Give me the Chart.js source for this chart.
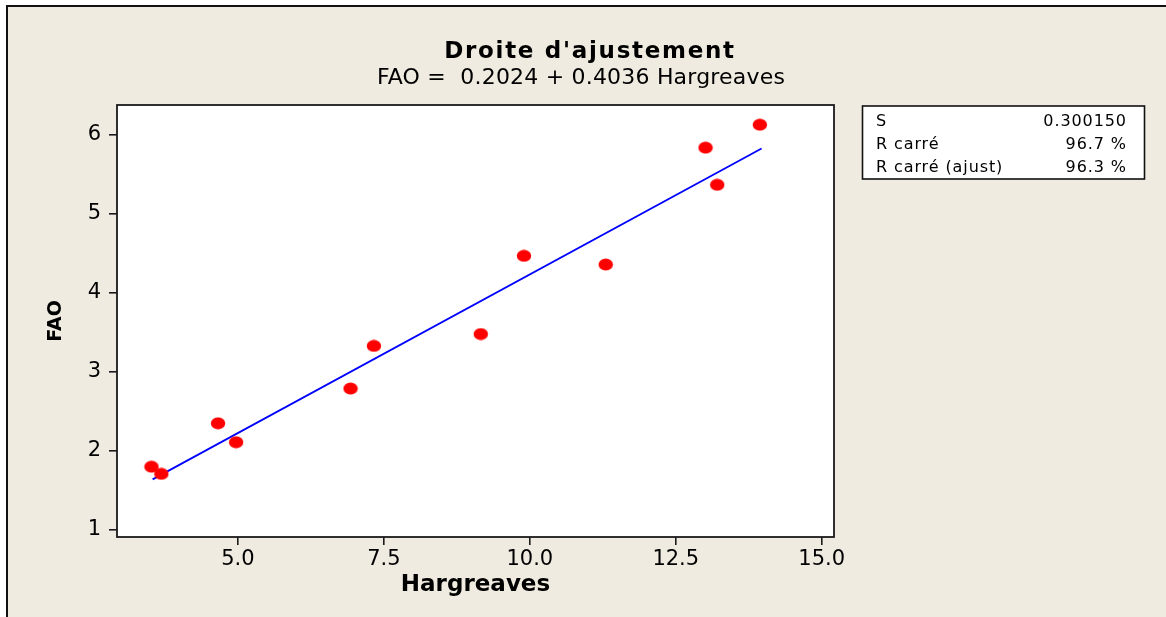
<!DOCTYPE html>
<html>
<head>
<meta charset="utf-8">
<title>Droite d'ajustement</title>
<script src="https://cdn.jsdelivr.net/npm/chart.js@4.4.1/dist/chart.umd.min.js"></script>
<style>
  html, body { margin: 0; padding: 0; background: #fff; }
  canvas { display: block; }
</style>
</head>
<body>
<canvas id="fitChart" width="1166" height="617"></canvas>
<script>
// ── données
const hargreaves = [3.52, 3.69, 4.66, 4.97, 6.93, 7.33, 9.16, 9.90, 11.30, 13.01, 13.21, 13.94];
const fao        = [1.80, 1.71, 2.35, 2.11, 2.79, 3.33, 3.48, 4.47, 4.36, 5.84, 5.37, 6.13];

// droite ajustée (extrémités lues)
const fitX = [3.54, 13.97];
const fitY = [1.64, 5.83];

const xTicks = [5.0, 7.5, 10.0, 12.5, 15.0];
const yTicks = [1, 2, 3, 4, 5, 6];

const chartTitle = "Droite d'ajustement";
const chartSubtitle = 'FAO =  0.2024 + 0.4036 Hargreaves';
const statLabels = ['S', 'R carré', 'R carré (ajust)'];
const statValues = ['0.300150', '96.7 %', '96.3 %'];

const FONT = "'DejaVu Sans', Verdana, sans-serif";
const BEIGE = '#efebe0';

// ─ point rouge légèrement ovale
function makeDot() {
    const c = document.createElement('canvas');
    c.width = 16; c.height = 13;
    const g = c.getContext('2d');
    g.fillStyle = '#ff0000';
    g.beginPath();
    g.ellipse(8, 6.5, 7.2, 5.9, 0, 0, Math.PI * 2);
    g.fill();
    return c;
}

// ─ fond, cadre, titres et boîte de stats
const framePlugin = {
    id: 'frame',
    beforeDraw(chart) {
        const { ctx, width, height, chartArea: a } = chart;
        ctx.save();
        ctx.fillStyle = '#fff';
        ctx.fillRect(0, 0, width, height);
        ctx.fillStyle = BEIGE;
        ctx.fillRect(7, 6, width - 7, height - 6);
        ctx.strokeStyle = '#111';
        ctx.lineWidth = 2;
        ctx.beginPath();
        ctx.moveTo(7, height);
        ctx.lineTo(7, 6);
        ctx.lineTo(width, 6);
        ctx.stroke();
        ctx.fillStyle = '#fff';
        ctx.fillRect(a.left, a.top, a.right - a.left, a.bottom - a.top);
        ctx.restore();
    },
    afterDatasetsDraw(chart) {
        const { ctx, chartArea: a } = chart;
        ctx.save();
        ctx.strokeStyle = '#1a1a1a';
        ctx.lineWidth = 1.8;
        ctx.strokeRect(a.left, a.top, a.right - a.left, a.bottom - a.top);
        ctx.restore();
    },
    afterDraw(chart) {
        const { ctx } = chart;
        ctx.save();
        ctx.fillStyle = '#000';
        ctx.textBaseline = 'alphabetic';

        // titre
        ctx.textAlign = 'center';
        ctx.font = `bold 23px ${FONT}`;
        ctx.letterSpacing = '1.7px';
        ctx.fillText(chartTitle, 590, 58);
        ctx.font = `22px ${FONT}`;
        ctx.letterSpacing = '0.2px';
        ctx.fillText(chartSubtitle, 581, 84);

        // boîte S / R carré
        ctx.fillStyle = '#fff';
        ctx.fillRect(862.5, 106, 282, 73);
        ctx.strokeStyle = '#111';
        ctx.lineWidth = 1.6;
        ctx.strokeRect(862.5, 106, 282, 73);
        ctx.fillStyle = '#000';
        ctx.font = `16px ${FONT}`;
        ctx.letterSpacing = '0.9px';
        statLabels.forEach((t, i) => {
            const y = 125.5 + i * 23;
            ctx.textAlign = 'left';
            ctx.fillText(t, 876, y);
            ctx.textAlign = 'right';
            ctx.fillText(statValues[i], 1126.9, y);
        });
        ctx.restore();
    }
};

const tickGrid = {
    drawOnChartArea: false,
    drawTicks: true,
    tickLength: 8,
    color: '#1a1a1a',
    lineWidth: 1.6
};

new Chart(document.getElementById('fitChart'), {
    type: 'scatter',
    data: {
        datasets: [
            {
                label: 'FAO',
                data: hargreaves.map((x, i) => ({ x, y: fao[i] })),
                pointStyle: makeDot(),
                pointRadius: 7,
                pointHoverRadius: 7
            },
            {
                label: 'Ajustement',
                data: fitX.map((x, i) => ({ x, y: fitY[i] })),
                showLine: true,
                borderColor: '#0000ff',
                borderWidth: 1.8,
                pointRadius: 0,
                pointHoverRadius: 0
            }
        ]
    },
    options: {
        responsive: false,
        animation: false,
        events: [],
        layout: { padding: { left: 8, top: 105, right: 332, bottom: 0 } },
        plugins: {
            legend: { display: false },
            tooltip: { enabled: false }
        },
        scales: {
            x: {
                type: 'linear',
                min: 2.93,
                max: 15.21,
                afterBuildTicks: s => { s.ticks = xTicks.map(v => ({ value: v })); },
                afterFit: s => { s.height = 80; },
                grid: tickGrid,
                border: { display: false },
                ticks: {
                    color: '#000',
                    padding: 2,
                    maxRotation: 0,
                    font: { family: FONT, size: 21 },
                    callback: v => Number(v).toFixed(1)
                },
                title: {
                    display: true,
                    text: 'Hargreaves',
                    color: '#000',
                    font: { family: FONT, size: 23, weight: 'bold' },
                    padding: { top: 0, bottom: 18 }
                }
            },
            y: {
                type: 'linear',
                min: 0.91,
                max: 6.38,
                afterBuildTicks: s => { s.ticks = yTicks.map(v => ({ value: v })); },
                afterFit: s => { s.width = 109; },
                grid: tickGrid,
                border: { display: false },
                ticks: {
                    color: '#000',
                    padding: 8,
                    font: { family: FONT, size: 21 },
                    callback: v => String(v)
                },
                title: {
                    display: true,
                    text: 'FAO',
                    color: '#000',
                    font: { family: FONT, size: 19, weight: 'bold' },
                    padding: { top: 37, bottom: 0 }
                }
            }
        }
    },
    plugins: [framePlugin]
});
</script>
</body>
</html>
